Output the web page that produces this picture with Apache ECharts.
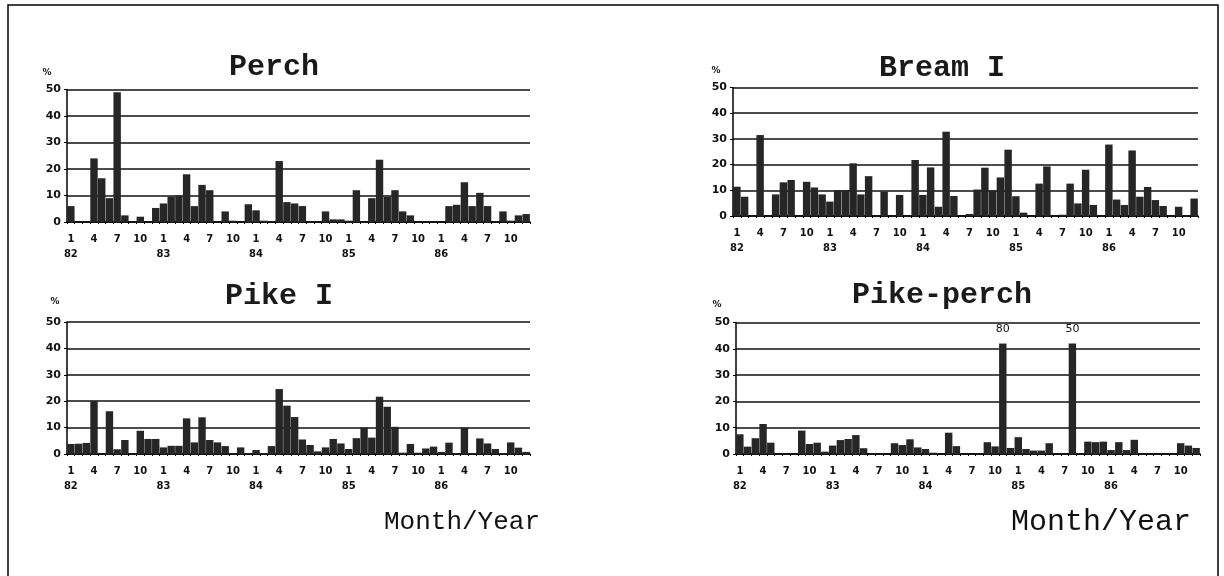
<!DOCTYPE html>
<html><head><meta charset="utf-8">
<script src="https://cdn.jsdelivr.net/npm/echarts@6/dist/echarts.min.js"></script>
<style>html,body{margin:0;padding:0;background:#fff}#c{width:1224px;height:576px}</style>
</head><body><div id="c"></div>
<script>
// ---- data (monthly %, Jan 1982 .. Dec 1986) ----
const YEARS = ['82', '83', '84', '85', '86'];
const MONTHS = [1, 2, 3, 4, 5, 6, 7, 8, 9, 10, 11, 12];
const Y_TICKS = [0, 10, 20, 30, 40, 50];
const TITLES = ['Perch', 'Bream I', 'Pike I', 'Pike-perch'];
const Y_UNIT = '%';
const X_NAME = 'Month/Year';

const PERCH = [
  6, 0, 0, 24, 16.5, 9, 49, 2.5, 0, 2, 0, 5.3,
  7, 9.5, 10, 18, 6, 14, 12, 0, 4, 0.5, 0, 6.7,
  4.4, 0.5, 0, 23, 7.5, 7, 6, 0, 0, 4, 1, 1,
  0.5, 12, 0, 9, 23.5, 9.5, 12, 4, 2.5, 0, 0, 0,
  0, 6, 6.5, 15, 6, 11, 6, 0, 4, 0.5, 2.5, 3
];
const BREAM_I = [
  11.4, 7.5, 0, 31.5, 0, 8.4, 13.1, 14, 0, 13.3, 11.1, 8.4,
  5.6, 10.1, 10.1, 20.5, 8.4, 15.5, 0, 9.5, 0, 8.2, 0, 21.8,
  8.2, 18.9, 3.6, 32.8, 7.8, 0, 0.8, 10.3, 18.8, 10, 15, 25.8,
  7.7, 1.3, 0, 12.6, 19.3, 0, 0.5, 12.6, 4.9, 18, 4.3, 0,
  27.8, 6.4, 4.3, 25.5, 7.5, 11.3, 6.2, 3.9, 0, 3.6, 0, 6.8
];
const PIKE_I = [
  3.8, 3.9, 4.2, 20.1, 0, 16.2, 1.8, 5.3, 0, 8.8, 5.7, 5.7,
  2.5, 3.1, 3.1, 13.5, 4.4, 13.9, 5.3, 4.4, 3, 0.3, 2.5, 0.3,
  1.5, 0.3, 3, 24.6, 18.3, 14, 5.5, 3.4, 1, 2.5, 5.7, 4,
  1.9, 6, 10, 6.2, 21.7, 17.9, 10.3, 0.5, 3.8, 0.5, 2.1, 2.8,
  0.8, 4.3, 0.3, 10, 0.3, 5.9, 4, 1.9, 0.3, 4.4, 2.4, 0.8
];
const PIKE_PERCH = [
  7.5, 2.8, 6, 11.4, 4.3, 0, 0, 0, 8.9, 3.8, 4.3, 0.9,
  3.2, 5.3, 5.7, 7.2, 2.2, 0, 0, 0, 4.1, 3.4, 5.6, 2.5,
  1.9, 0.5, 0, 8.1, 3, 0, 0, 0, 4.5, 2.9, 80, 2.3,
  6.4, 1.9, 1.3, 1.3, 4.1, 0, 0, 50, 0, 4.7, 4.5, 4.7,
  1.5, 4.5, 1.5, 5.4, 0, 0, 0, 0, 0, 4.1, 3.2, 2.3
];

// ---- build ----
const categories = [];
YEARS.forEach(y => MONTHS.forEach(m => categories.push(m + '/' + y)));
const Y_MAX = Y_TICKS[Y_TICKS.length - 1];
const BROKEN_HEIGHT = 42; // drawn height of off-scale (broken) bars

const layout = [
  { grid: { left: 67, top: 89.5, width: 463, height: 132.5 }, tx: 274, ty: 67, px: 47, py: 73 },
  { grid: { left: 733, top: 87.5, width: 465, height: 128.5 }, tx: 942, ty: 68, px: 716, py: 71 },
  { grid: { left: 67, top: 322, width: 463, height: 132 }, tx: 279, ty: 296, px: 55, py: 302 },
  { grid: { left: 736, top: 322.5, width: 464, height: 131.5 }, tx: 942, ty: 295, px: 717, py: 305 }
];
const SERIES = [PERCH, BREAM_I, PIKE_I, PIKE_PERCH];

const FONT_T = 'Liberation Mono';
const FONT_N = 'DejaVu Sans';

const option = {
  animation: false,
  backgroundColor: '#fff',
  title: layout.map((l, i) => ({
    text: TITLES[i], left: l.tx, top: l.ty - 15, textAlign: 'center', padding: 0,
    textStyle: { fontFamily: FONT_T, fontSize: 30, fontWeight: 'bold', color: '#1a1a1a', lineHeight: 30 }
  })),
  grid: layout.map(l => Object.assign({ containLabel: false }, l.grid)),
  xAxis: layout.map((l, i) => ({
    type: 'category', gridIndex: i, data: categories,
    axisLine: { lineStyle: { color: '#000', width: 1.5 } },
    axisTick: { show: true, interval: 0, length: 2, lineStyle: { color: '#000', width: 1 } },
    axisLabel: {
      interval: (idx) => idx % 3 === 0,
      formatter: (val, idx) => {
        const m = MONTHS[idx % 12];
        return m === 1 ? m + '\n' + YEARS[Math.floor(idx / 12)] : String(m);
      },
      fontFamily: FONT_N, fontSize: 10, fontWeight: 'bold', color: '#111',
      lineHeight: 15, margin: 10
    },
    splitLine: { show: false }
  })),
  yAxis: layout.map((l, i) => ({
    type: 'value', gridIndex: i, min: Y_TICKS[0], max: Y_MAX, interval: Y_TICKS[1] - Y_TICKS[0],
    axisLine: { show: true, lineStyle: { color: '#000', width: 1.5 } },
    axisTick: { show: true, length: 3, lineStyle: { color: '#000' } },
    axisLabel: { fontFamily: FONT_N, fontSize: 11, fontWeight: 'bold', color: '#111', margin: 6 },
    splitLine: { show: true, lineStyle: { color: '#111', width: 1.5 } }
  })),
  series: SERIES.map((arr, i) => ({
    type: 'bar', xAxisIndex: i, yAxisIndex: i,
    barCategoryGap: '4%',
    itemStyle: { color: '#262626' },
    label: { show: false },
    data: arr.map(v => v >= Y_MAX ? {
      value: BROKEN_HEIGHT,
      label: { show: true, position: 'top', distance: 9, formatter: String(v),
               fontFamily: FONT_N, fontSize: 11, color: '#111' }
    } : v)
  })),
  graphic: [
    { type: 'rect', silent: true, shape: { x: 8, y: 5, width: 1210, height: 600 },
      style: { fill: 'none', stroke: '#000', lineWidth: 1.5 } },
    ...layout.map(l => ({ type: 'text', silent: true,
      style: { text: Y_UNIT, x: l.px, y: l.py, textAlign: 'center', textVerticalAlign: 'middle',
               font: 'bold 9px "DejaVu Sans"', fill: '#111' } })),
    { type: 'text', silent: true,
      style: { text: X_NAME, x: 462, y: 522, textAlign: 'center', textVerticalAlign: 'middle',
               font: '26px "Liberation Mono"', fill: '#111' } },
    { type: 'text', silent: true,
      style: { text: X_NAME, x: 1101, y: 522, textAlign: 'center', textVerticalAlign: 'middle',
               font: '30px "Liberation Mono"', fill: '#111' } }
  ]
};

const chart = echarts.init(document.getElementById('c'), null, { renderer: 'canvas' });
chart.setOption(option);
</script>
</body></html>
